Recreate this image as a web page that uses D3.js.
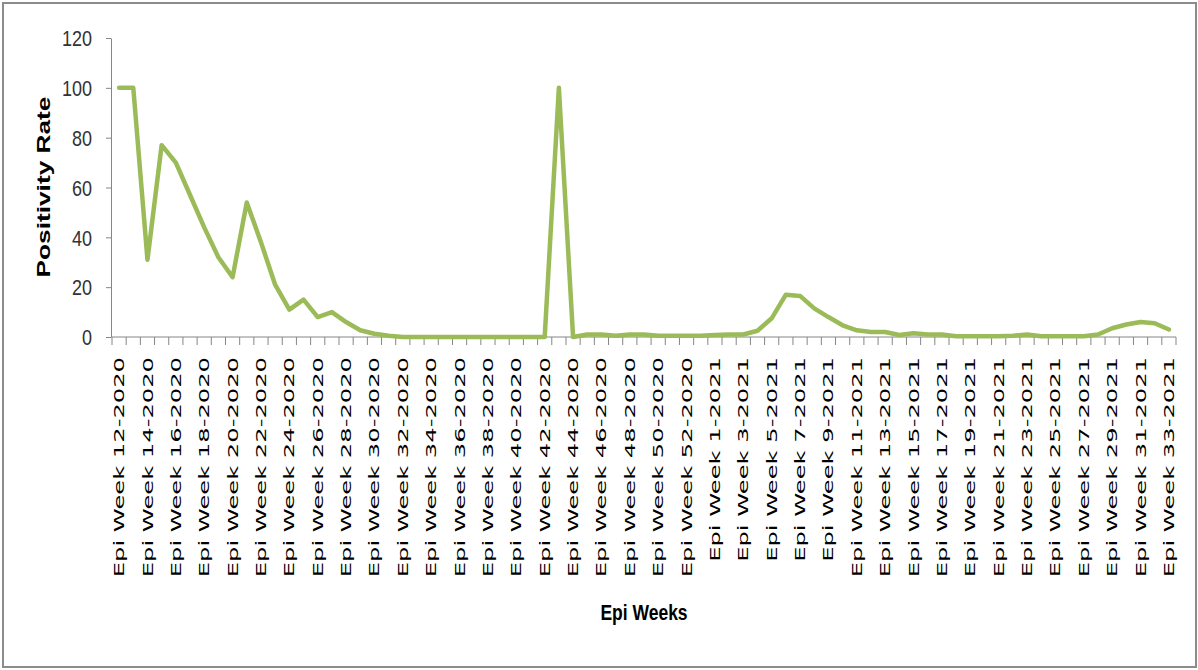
<!DOCTYPE html>
<html>
<head>
<meta charset="utf-8">
<script src="https://cdn.jsdelivr.net/npm/d3@7"></script>
<style>
  body { margin: 0; background: #fff; }
  svg { display: block; }
</style>
</head>
<body>
<div id="chart"></div>
<script>
// positivity rate per epi week

const width = 1198,
    height = 670,
    margin = ({ top: 38, right: 22, bottom: 333, left: 112 });

// categories (epi weeks 12-2020 .. 33-2021)
const weeks = [
  "Epi Week 12-2020", "Epi Week 13-2020", "Epi Week 14-2020", "Epi Week 15-2020", "Epi Week 16-2020",
  "Epi Week 17-2020", "Epi Week 18-2020", "Epi Week 19-2020", "Epi Week 20-2020", "Epi Week 21-2020",
  "Epi Week 22-2020", "Epi Week 23-2020", "Epi Week 24-2020", "Epi Week 25-2020", "Epi Week 26-2020",
  "Epi Week 27-2020", "Epi Week 28-2020", "Epi Week 29-2020", "Epi Week 30-2020", "Epi Week 31-2020",
  "Epi Week 32-2020", "Epi Week 33-2020", "Epi Week 34-2020", "Epi Week 35-2020", "Epi Week 36-2020",
  "Epi Week 37-2020", "Epi Week 38-2020", "Epi Week 39-2020", "Epi Week 40-2020", "Epi Week 41-2020",
  "Epi Week 42-2020", "Epi Week 43-2020", "Epi Week 44-2020", "Epi Week 45-2020", "Epi Week 46-2020",
  "Epi Week 47-2020", "Epi Week 48-2020", "Epi Week 49-2020", "Epi Week 50-2020", "Epi Week 51-2020",
  "Epi Week 52-2020", "Epi Week 53-2020",
  "Epi Week 1-2021", "Epi Week 2-2021", "Epi Week 3-2021", "Epi Week 4-2021", "Epi Week 5-2021",
  "Epi Week 6-2021", "Epi Week 7-2021", "Epi Week 8-2021", "Epi Week 9-2021", "Epi Week 10-2021",
  "Epi Week 11-2021", "Epi Week 12-2021", "Epi Week 13-2021", "Epi Week 14-2021", "Epi Week 15-2021",
  "Epi Week 16-2021", "Epi Week 17-2021", "Epi Week 18-2021", "Epi Week 19-2021", "Epi Week 20-2021",
  "Epi Week 21-2021", "Epi Week 22-2021", "Epi Week 23-2021", "Epi Week 24-2021", "Epi Week 25-2021",
  "Epi Week 26-2021", "Epi Week 27-2021", "Epi Week 28-2021", "Epi Week 29-2021", "Epi Week 30-2021",
  "Epi Week 31-2021", "Epi Week 32-2021", "Epi Week 33-2021"
];

// positivity rate (%)
const positivity = [
  100, 100, 31, 77, 70, 57, 44, 32, 24, 54,
  38, 21, 11, 15, 8, 10, 6, 2.7, 1.3, 0.5,
  0, 0, 0, 0, 0, 0, 0, 0, 0, 0,
  0, 100, 0, 1, 1, 0.5, 1, 1, 0.5, 0.5,
  0.5, 0.5,
  0.8, 1, 1, 2.5, 7.5, 17, 16.5, 11.5, 8, 4.7,
  2.7, 2, 2, 0.8, 1.5, 1, 1, 0.3, 0.3, 0.3,
  0.3, 0.5, 1, 0.3, 0.3, 0.3, 0.3, 1, 3.5, 5,
  6, 5.5, 3
];

const yTicks = [0, 20, 40, 60, 80, 100, 120];

const data = weeks.map((w, i) => ({ week: w, value: positivity[i] }));

const svg = d3.select("#chart")
    .append("svg")
    .attr("width", width)
    .attr("height", height);

// outer frame
svg.append("rect")
    .attr("x", 3).attr("y", 3)
    .attr("width", width - 5).attr("height", height - 6)
    .attr("fill", "#fff")
    .attr("stroke", "#8c8c8c")
    .attr("stroke-width", 2);

const x = d3.scaleBand()
    .domain(weeks)
    .range([margin.left, width - margin.right])
    .padding(0);

const y = d3.scaleLinear()
    .domain([0, 120])
    .range([height - margin.bottom, margin.top]);

const axisColor = "#868686";

// y axis
const yAxis = svg.append("g")
    .attr("transform", `translate(${margin.left - 1},0)`)
    .call(d3.axisLeft(y).tickValues(yTicks).tickSize(5).tickSizeOuter(0).tickPadding(14));
yAxis.select(".domain").attr("stroke", axisColor);
yAxis.selectAll(".tick line").attr("stroke", axisColor);
yAxis.selectAll(".tick text")
    .attr("font-family", "'Liberation Sans', Arial, sans-serif")
    .attr("font-size", 18)
    .attr("fill", "#333")
    .attr("dy", "0.36em")
    .attr("transform", "scale(1,1.2)");

// x axis: line + boundary ticks between categories
const xBase = height - margin.bottom;
const xg = svg.append("g");
xg.append("line")
    .attr("x1", margin.left).attr("x2", width - margin.right)
    .attr("y1", xBase).attr("y2", xBase)
    .attr("stroke", axisColor);
const bounds = weeks.map(w => x(w)).concat([x.range()[1]]);
xg.selectAll(".bt")
    .data(bounds)
    .join("line")
    .attr("class", "bt")
    .attr("x1", d => d).attr("x2", d => d)
    .attr("y1", xBase).attr("y2", xBase + 8)
    .attr("stroke", axisColor);

// labels on every other week
const xAxis = svg.append("g")
    .attr("transform", `translate(0,${xBase})`)
    .call(d3.axisBottom(x).tickValues(weeks.filter((d, i) => i % 2 === 0)).tickSize(0));
xAxis.select(".domain").remove();
xAxis.selectAll(".tick text")
    .attr("font-family", "'DejaVu Sans', Verdana, sans-serif")
    .attr("font-size", 14)
    .attr("fill", "#000")
    .attr("text-anchor", "end")
    .attr("x", 0).attr("y", 0)
    .attr("dy", "0.36em")
    .attr("transform", "translate(0,20) rotate(-90) scale(1.73,1)");

// axis titles
svg.append("text")
    .attr("transform", "translate(50,187) rotate(-90) scale(1.5,1)")
    .attr("text-anchor", "middle")
    .attr("font-family", "'Liberation Sans', Arial, sans-serif")
    .attr("font-weight", "bold")
    .attr("font-size", 17.5)
    .text("Positivity Rate");

svg.append("text")
    .attr("transform", "translate(644,620) scale(1,1.25)")
    .attr("text-anchor", "middle")
    .attr("font-family", "'Liberation Sans', Arial, sans-serif")
    .attr("font-weight", "bold")
    .attr("font-size", 17.5)
    .text("Epi Weeks");

// the line
const line = d3.line()
    .x(d => x(d.week) + x.bandwidth() / 2)
    .y(d => y(d.value));

svg.append("path")
    .datum(data)
    .attr("d", line)
    .attr("fill", "none")
    .attr("stroke", "#9bbb59")
    .attr("stroke-width", 4.5)
    .attr("stroke-linejoin", "round")
    .attr("stroke-linecap", "round");
</script>
</body>
</html>
